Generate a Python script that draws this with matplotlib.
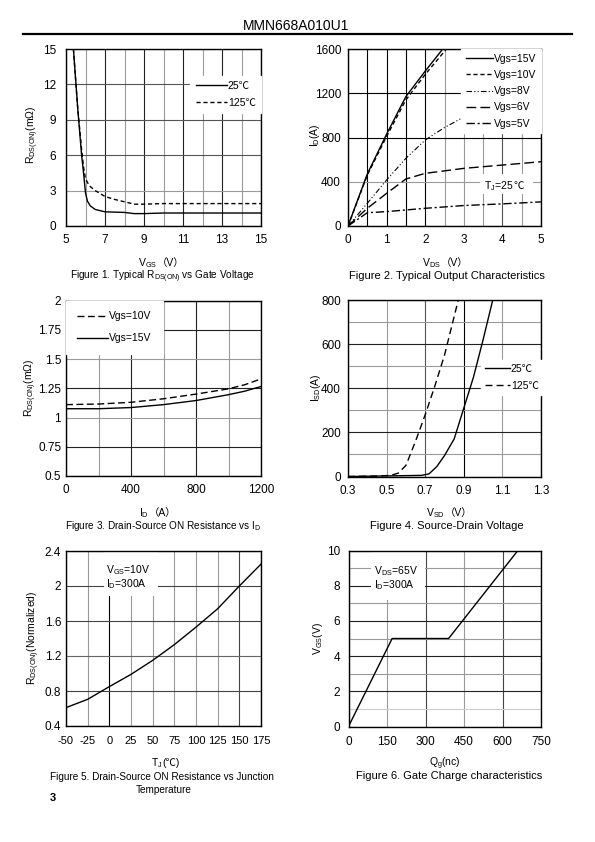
import matplotlib
matplotlib.use("Agg")
import matplotlib.pyplot as plt
from matplotlib.transforms import IdentityTransform
from matplotlib.patches import Rectangle

W, H = 595, 842

plt.rcParams['font.family'] = ['Liberation Sans', 'Noto Sans CJK SC', 'DejaVu Sans']
plt.rcParams['mathtext.fontset'] = 'custom'
plt.rcParams['mathtext.rm'] = 'Liberation Sans'
plt.rcParams['mathtext.it'] = 'Liberation Sans'
plt.rcParams['mathtext.default'] = 'regular'
plt.rcParams['axes.unicode_minus'] = False

# Figure 1: Rds(on) vs Vgs
f1_vgs_25 = [5.38, 5.6, 5.8, 5.9, 6.0, 6.1, 6.25, 6.5, 7.0, 8.0, 8.5, 9.0, 10.0, 15.0]
f1_r_25 = [15.0, 10.0, 6.0, 4.5, 2.8, 2.1, 1.7, 1.4, 1.2, 1.15, 1.05, 1.05, 1.1, 1.1]
f1_vgs_125 = [5.38, 5.6, 5.8, 5.9, 6.0, 6.2, 6.5, 7.0, 7.5, 8.0, 8.5, 9.0, 10.0, 15.0]
f1_r_125 = [15.0, 10.0, 6.5, 5.0, 4.0, 3.4, 3.0, 2.5, 2.25, 2.05, 1.85, 1.85, 1.9, 1.9]

# Figure 2: output characteristics
f2_vds_15 = [0, 0.5, 1.0, 1.5, 2.0, 2.5]
f2_id_15 = [0, 470, 830, 1170, 1400, 1620]
f2_vds_10 = [0, 0.5, 1.0, 1.5, 2.0, 2.55]
f2_id_10 = [0, 460, 810, 1140, 1370, 1600]
f2_vds_8 = [0, 0.5, 1.0, 1.5, 2.0, 2.5, 3.0]
f2_id_8 = [0, 205, 416, 612, 777, 890, 985]
f2_vds_6 = [0, 0.5, 1.0, 1.5, 2.0, 3.0, 4.0, 5.0]
f2_id_6 = [0, 160, 295, 425, 476, 521, 551, 581]
f2_vds_5 = [0, 0.5, 1.0, 2.0, 3.0, 4.0, 5.0]
f2_id_5 = [0, 120, 130, 160, 185, 200, 218]
f2_labels = ['Vgs=15V', 'Vgs=10V', 'Vgs=8V', 'Vgs=6V', 'Vgs=5V']

# Figure 3: Rds(on) vs Id
f3_id = [0, 200, 400, 600, 800, 1000, 1100, 1200]
f3_r_10 = [1.11, 1.115, 1.13, 1.16, 1.20, 1.245, 1.28, 1.33]
f3_r_15 = [1.075, 1.075, 1.085, 1.11, 1.145, 1.195, 1.225, 1.265]

# Figure 4: source-drain diode
f4_v_25 = [0.3, 0.68, 0.72, 0.76, 0.8, 0.85, 0.9, 0.95, 1.0, 1.05]
f4_i_25 = [0, 5, 12, 45, 95, 170, 310, 450, 620, 800]
f4_v_125 = [0.3, 0.45, 0.52, 0.56, 0.6, 0.65, 0.7, 0.75, 0.8, 0.87]
f4_i_125 = [0, 2, 5, 15, 50, 160, 280, 410, 550, 795]

# Figure 5: normalized Rds(on) vs Tj
f5_tj = [-50, -25, 0, 25, 50, 75, 100, 125, 150, 175]
f5_r = [0.61, 0.705, 0.85, 0.99, 1.15, 1.33, 1.53, 1.74, 2.0, 2.25]

# Figure 6: gate charge
f6_qg = [0, 170, 390, 660]
f6_vgs = [0, 5, 5, 10]

DARK = '#222222'
LIGHT = '#9a9a9a'
GRID_LW = 0.8
TICK_FS = 8.5
TEXT_FS = 7.5
CAP_L = 7.2
CAP_R = 8

fig = plt.figure(figsize=(W / 100, H / 100), dpi=100)
renderer = fig.canvas.get_renderer()


def px_axes(l, t, r, b):
    return fig.add_axes([l / W, 1 - b / H, (r - l) / W, (b - t) / H])


def style(ax, xlim, ylim, xt, yt, xminor=None, yminor=None, ypad=5, xpad=6):
    ax.set_xlim(*xlim)
    ax.set_ylim(*ylim)
    ax.set_xticks(xt)
    ax.set_yticks(yt)
    if xminor is not None:
        ax.set_xticks(xminor, minor=True)
    if yminor is not None:
        ax.set_yticks(yminor, minor=True)
    ax.set_axisbelow(True)
    ax.grid(True, which='major', color=DARK, lw=GRID_LW)
    ax.grid(True, which='minor', color=LIGHT, lw=GRID_LW)
    ax.tick_params(which='both', length=0, labelsize=TICK_FS)
    ax.tick_params(axis='y', pad=ypad)
    ax.tick_params(axis='x', pad=xpad)
    for s in ax.spines.values():
        s.set_linewidth(1.0)
        s.set_color('black')
        s.set_zorder(3)


def shade(axis, colors, minor=False):
    ticks = axis.get_minor_ticks() if minor else axis.get_major_ticks()
    for tk, c in zip(ticks, colors):
        tk.gridline.set_color(c)


def rich(parent, x, y, pieces, size=TEXT_FS, center=True, weight='normal'):
    texts = [parent.text(0, 0, s, fontsize=size, transform=IdentityTransform(),
                         ha='left', va='baseline', weight=weight) for s in pieces]
    widths = [t.get_window_extent(renderer).width for t in texts]
    x0 = x - sum(widths) / 2 if center else x
    for t, w in zip(texts, widths):
        t.set_position((x0, H - y))
        x0 += w
    return texts


def white_box(ax, l, t, r, b):
    ax.add_patch(Rectangle((l, H - b), r - l, b - t, transform=IdentityTransform(),
                           facecolor='white', edgecolor='none', zorder=1.5, clip_on=False))


def ylab(x, y, s):
    fig.text(x / W, 1 - y / H, s, rotation=90, ha='center', va='center', fontsize=TEXT_FS)


def legend(ax, loc, anchor, spacing, pad=0.4, hl=3.0):
    ax.legend(loc=loc, bbox_to_anchor=anchor, fontsize=TEXT_FS, frameon=True,
              framealpha=1, edgecolor='white', fancybox=False, handlelength=hl,
              handletextpad=0.1, labelspacing=spacing, borderpad=pad, borderaxespad=0)


# header
fig.text(296 / W, 1 - 26 / H, 'MMN668A010U1', ha='center', va='center', fontsize=10)
fig.add_artist(plt.Line2D([23 / W, 572 / W], [1 - 34 / H, 1 - 34 / H], color='black', lw=1.6))

# ---------- Figure 1 ----------
ax1 = px_axes(66, 49, 261, 226)
style(ax1, (5, 15), (0, 15), range(5, 16, 2), range(0, 16, 3), xminor=range(6, 15, 2), ypad=7, xpad=6)
shade(ax1.yaxis, ['k', LIGHT, '#555555', '#555555', '#555555', 'k'])
ax1.plot(f1_vgs_25, f1_r_25, color='black', lw=1.0, label='25℃')
ax1.plot(f1_vgs_125, f1_r_125, color='black', lw=1.0, ls=(0, (3, 2)), label='125℃')
legend(ax1, 'upper right', (1.0, 0.85), 0.65, pad=0.5)
ylab(33, 135, r'R$_{DS(ON)}$(mΩ)')
rich(fig, 161, 266, ['V$_{GS}$', '（V）'])
rich(fig, 162, 279, [r'Figure 1. Typical R$_{DS(ON)}$ vs Gate Voltage'], size=CAP_L)

# ---------- Figure 2 ----------
ax2 = px_axes(348, 49, 541, 226)
style(ax2, (0, 5), (0, 1600), range(0, 6), range(0, 1601, 400),
      xminor=[0.5, 1.5, 2.5, 3.5, 4.5], ypad=5, xpad=6)
shade(ax2.xaxis, ['k', 'k', 'k', LIGHT, '#555555', 'k'])
shade(ax2.xaxis, ['k', 'k', LIGHT, LIGHT, LIGHT], minor=True)
shade(ax2.yaxis, ['k', LIGHT, 'k', 'k', 'k'])
ax2.plot(f2_vds_15, f2_id_15, color='black', lw=1.0, label=f2_labels[0])
ax2.plot(f2_vds_10, f2_id_10, color='black', lw=1.0, ls=(0, (3, 2)), label=f2_labels[1])
ax2.plot(f2_vds_8, f2_id_8, color='black', lw=0.8, ls=(0, (5, 2, 1, 2, 1, 2)), label=f2_labels[2])
ax2.plot(f2_vds_6, f2_id_6, color='black', lw=1.0, ls=(0, (7, 3)), label=f2_labels[3])
ax2.plot(f2_vds_5, f2_id_5, color='black', lw=1.0, ls=(0, (6, 2, 1.5, 2)), label=f2_labels[4])
legend(ax2, 'upper right', (1.0, 1.0), 0.6, pad=0.45, hl=2.6)
white_box(ax2, 480, 174, 533, 194)
for t in rich(ax2, 504, 189, ['T$_J$=25', '℃']):
    t.set_zorder(4)
ylab(315, 135, 'I$_D$(A)')
rich(fig, 445, 266, ['V$_{DS}$', '（V）'])
rich(fig, 447, 279, ['Figure 2. Typical Output Characteristics'], size=CAP_R)

# ---------- Figure 3 ----------
ax3 = px_axes(66, 300.5, 261, 476)
f3_yt = [0.5, 0.75, 1.0, 1.25, 1.5, 1.75, 2.0]
style(ax3, (0, 1200), (0.5, 2), [0, 400, 800, 1200], f3_yt, xminor=[200, 600, 1000], ypad=3.5, xpad=6)
ax3.set_yticklabels(['0.5', '0.75', '1', '1.25', '1.5', '1.75', '2'])
shade(ax3.yaxis, ['k', DARK, LIGHT, DARK, LIGHT, DARK, 'k'])
ax3.plot(f3_id, f3_r_10, color='black', lw=1.0, ls=(0, (5, 2.5)), label='Vgs=10V')
ax3.plot(f3_id, f3_r_15, color='black', lw=1.0, label='Vgs=15V')
legend(ax3, 'upper left', (0.0, 1.0), 1.15, pad=1.05)
ylab(31, 388, r'R$_{DS(ON)}$(mΩ)')
rich(fig, 158, 516, ['I$_D$', '（A）'])
rich(fig, 163, 529, ['Figure 3. Drain-Source ON Resistance vs I$_D$'], size=CAP_L)

# ---------- Figure 4 ----------
ax4 = px_axes(348, 300, 541, 476.5)
style(ax4, (0.3, 1.3), (0, 800), [0.3, 0.5, 0.7, 0.9, 1.1, 1.3], range(0, 801, 200),
      yminor=range(100, 800, 200), ypad=5, xpad=6)
shade(ax4.xaxis, ['k', LIGHT, '#555555', 'k', LIGHT, 'k'])
ax4.plot(f4_v_25, f4_i_25, color='black', lw=1.0, label='25℃')
ax4.plot(f4_v_125, f4_i_125, color='black', lw=1.0, ls=(0, (5, 3)), label='125℃')
legend(ax4, 'upper left', (0.69, 0.66), 0.7, pad=0.35, hl=2.4)
ylab(316, 388, 'I$_{SD}$(A)')
rich(fig, 449, 516, ['V$_{SD}$', '（V）'])
rich(fig, 447, 529, ['Figure 4. Source-Drain Voltage'], size=CAP_R)

# ---------- Figure 5 ----------
ax5 = px_axes(66, 551, 261, 726)
style(ax5, (-50, 175), (0.4, 2.4), range(-50, 176, 25), [0.4, 0.8, 1.2, 1.6, 2.0, 2.4],
      ypad=3.5, xpad=7)
ax5.tick_params(axis='x', labelsize=8)
ax5.set_yticklabels(['0.4', '0.8', '1.2', '1.6', '2', '2.4'])
shade(ax5.xaxis, ['k', LIGHT, 'k', LIGHT, LIGHT, LIGHT, LIGHT, LIGHT, '#444444', 'k'])
shade(ax5.yaxis, ['k', '#444444', '#666666', '#444444', '#444444', 'k'])
ax5.plot(f5_tj, f5_r, color='black', lw=1.0)
white_box(ax5, 104, 551, 158, 596)
ax5.text(106, H - 563, 'V$_{GS}$=10V\nI$_D$=300A', transform=IdentityTransform(), fontsize=TEXT_FS,
         ha='left', va='top', linespacing=1.0, zorder=4)
ylab(34, 638, r'R$_{DS(ON)}$(Normalized)')
rich(fig, 165, 766, ['T$_J$', '(℃)'])
rich(fig, 162, 780, ['Figure 5. Drain-Source ON Resistance vs Junction'], size=CAP_L)
rich(fig, 164, 793, ['Temperature'], size=CAP_L)
fig.text(53 / W, 1 - 798 / H, '3', ha='center', va='center', fontsize=8, weight='bold')

# ---------- Figure 6 ----------
ax6 = px_axes(348.5, 550.5, 541, 726.5)
style(ax6, (0, 750), (0, 10), range(0, 751, 150), range(0, 11, 2), yminor=range(1, 10, 2),
      ypad=6, xpad=7)
shade(ax6.xaxis, ['k', LIGHT, '#444444', LIGHT, '#444444', 'k'])
shade(ax6.yaxis, ['#cccccc', LIGHT, LIGHT, LIGHT, LIGHT], minor=True)
ax6.plot(f6_qg, f6_vgs, color='black', lw=1.0)
white_box(ax6, 371, 551, 425, 600)
ax6.text(374, H - 564, 'V$_{DS}$=65V\nI$_D$=300A', transform=IdentityTransform(), fontsize=TEXT_FS,
         ha='left', va='top', linespacing=1.0, zorder=4)
ylab(318, 638, 'V$_{GS}$(V)')
rich(fig, 445, 766, ['Q$_g$(nc)'])
rich(fig, 449, 779, ['Figure 6. Gate Charge characteristics'], size=CAP_R)

fig.savefig('out.png', dpi=100)
